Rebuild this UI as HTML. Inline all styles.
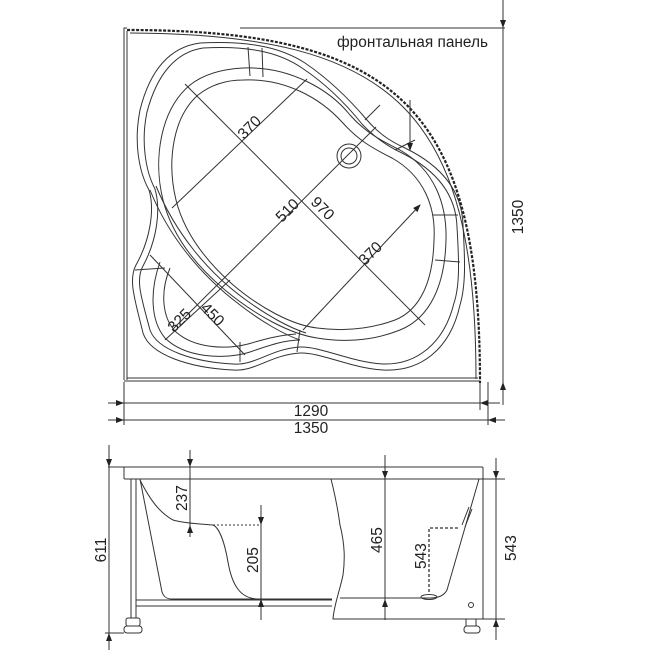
<!DOCTYPE html>
<html><head><meta charset="utf-8"><style>
html,body{margin:0;padding:0;background:#fff;}
svg{display:block;}
text{font-family:"Liberation Sans","DejaVu Sans",sans-serif;fill:#222;}
</style></head><body>
<svg width="664" height="664" viewBox="0 0 664 664" xmlns="http://www.w3.org/2000/svg">
<defs>
<marker id="a" markerWidth="8" markerHeight="8" refX="7" refY="3" orient="auto" markerUnits="userSpaceOnUse"><path d="M0,0 L8,3 L0,6 Z" fill="#222"/></marker>
</defs>
<g fill="none" stroke="#333" stroke-width="1">
<path d="M124,380 L124,28 L127,28"/>
<path d="M127,380 L127,31"/>
<path d="M124,381 L480,381 M127,378 L478,378"/>
<path d="M127,30 C400,30 480,110 480,383" stroke="#222" stroke-width="2.2" stroke-dasharray="3,1.5"/>
<path d="M130,33 C396,34 476,113 476,379"/>
<line x1="240" y1="28" x2="505" y2="28"/>
<path d="M200,43 C255,40 285,50 305,63 C330,80 350,100 367,120 C380,135 392,142 405,148 C440,165 462,190 463,225 C465,260 466,285 460,305 C450,350 420,372 383,370 C350,368 320,352 300,353 C270,355 255,372 233,370 C190,368 150,355 143,333 C135,300 128,280 136,265 C150,240 155,210 149,190 C138,170 134,140 140,110 C150,70 170,47 200,43 Z"/>
<path d="M203,48 C255,45 283,55 302,68 C326,84 346,104 362,124 C376,139 389,147 402,153 C436,170 456,194 457,227 C459,260 460,285 454,303 C444,344 416,365 383,364 C350,362 320,346 300,347 C270,349 255,366 233,364 C194,362 157,350 150,330 C142,300 135,280 143,266 C157,240 161,210 155,189 C145,170 141,140 147,112 C157,74 176,52 203,48 Z"/>
<path d="M243,68 C290,66 330,90 350,115 C365,132 380,140 400,150 C435,170 447,205 446,240 C445,285 430,318 400,330 C370,342 340,342 317,338 C290,334 255,315 225,290 C195,265 172,235 163,200 C153,160 160,110 190,85 C205,73 225,69 243,68 Z"/>
<path d="M243,80 C285,78 320,98 342,122 C358,140 372,148 392,158 C424,176 436,207 434,240 C433,282 420,310 395,320 C368,330 340,331 317,328 C292,325 260,308 232,284 C205,260 184,232 176,200 C167,163 172,118 198,95 C212,84 228,80 243,80 Z"/>
<path d="M160,262 C150,290 150,320 165,338 C185,358 225,360 250,352 C270,345 285,340 300,340"/>
<path d="M170,268 C160,292 162,318 176,332 C194,348 225,350 248,344 C265,339 280,335 296,334"/>
<path d="M150,190 C168,235 200,275 240,305 C262,322 285,335 300,340"/>
<path d="M156,186 C175,232 207,272 246,300 C268,316 290,328 306,333"/>
<path d="M248,47 L250,76 M262,48 L263,77 M365,120 L380,105 M395,150 L415,140 M433,215 L458,215 M435,260 L460,262 M300,330 L297,352 M240,342 L240,362 M135,270 L165,268"/>
<circle cx="349" cy="156" r="12"/><circle cx="349" cy="156" r="8"/>
<line x1="185" y1="84" x2="425" y2="325"/>
<line x1="172" y1="330" x2="376" y2="127"/>
<line x1="303" y1="330" x2="420" y2="205" marker-end="url(#a)"/>
<line x1="172" y1="208" x2="307" y2="79"/>
<line x1="150" y1="255" x2="245" y2="355"/>
<line x1="165" y1="340" x2="230" y2="280"/>
<line x1="410" y1="100" x2="410" y2="150" marker-end="url(#a)"/>
<line x1="503" y1="0" x2="503" y2="405"/>
<line x1="503" y1="5" x2="503" y2="27" marker-end="url(#a)"/>
<line x1="503" y1="405" x2="503" y2="383" marker-end="url(#a)"/>
<line x1="480" y1="382" x2="480" y2="410"/>
<line x1="488" y1="382" x2="488" y2="425"/>
<line x1="124" y1="382" x2="124" y2="425"/>
<line x1="108" y1="403" x2="490" y2="403"/>
<line x1="108" y1="403" x2="123" y2="403" marker-end="url(#a)"/>
<line x1="500" y1="403" x2="481" y2="403" marker-end="url(#a)"/>
<line x1="108" y1="420" x2="500" y2="420"/>
<line x1="108" y1="420" x2="123" y2="420" marker-end="url(#a)"/>
<line x1="505" y1="420" x2="489" y2="420" marker-end="url(#a)"/>
</g>
<g font-size="15.5">
<text x="337" y="47" textLength="151" lengthAdjust="spacingAndGlyphs">фронтальная панель</text>
<text x="311" y="416" text-anchor="middle">1290</text>
<text x="311" y="433" text-anchor="middle">1350</text>
<text transform="translate(523,217) rotate(-90)" text-anchor="middle">1350</text>
<text transform="translate(253,131) rotate(-45)" text-anchor="middle">370</text>
<text transform="translate(291,214) rotate(-45)" text-anchor="middle">510</text>
<text transform="translate(319,212) rotate(45)" text-anchor="middle">970</text>
<text transform="translate(374,257) rotate(-45)" text-anchor="middle">370</text>
<text transform="translate(183,324) rotate(-45)" text-anchor="middle">325</text>
<text transform="translate(209,318) rotate(45)" text-anchor="middle">450</text>
</g>
<g fill="none" stroke="#333" stroke-width="1">
<rect x="124" y="467" width="359" height="12" rx="1"/>
<line x1="108" y1="467" x2="124" y2="467"/>
<line x1="483" y1="479" x2="505" y2="479"/>
<path d="M131,479 L131,618 M136,479 L136,618"/>
<rect x="126" y="618" width="14" height="8" rx="2"/>
<rect x="124" y="626" width="18" height="7" rx="3"/>
<line x1="105" y1="633" x2="124" y2="633"/>
<path d="M136,600 L332,600 M136,606 L332,606"/>
<path d="M140,479 L162,592 C164,598 168,599 172,599 L332,599"/>
<path d="M140,480 C150,500 160,513 173,520 C182,523 200,524 213,525 C220,528 225,545 228,562 C232,585 240,598 257,599"/>
<path d="M331,479 C335,495 338,510 340,525 C345,545 345,560 343,575 C340,590 334,605 333,619 L483,619 L483,479"/>
<path d="M479,479 L447,590 C444,596 438,598 430,598 L340,598"/>
<ellipse cx="429" cy="597" rx="8" ry="2.5"/>
<circle cx="471" cy="605" r="2.5"/>
<path d="M462,525 L469,507 M465,527 L472,509"/>
<rect x="466" y="619" width="10" height="7"/>
<rect x="464" y="626" width="16" height="7" rx="3"/>
<line x1="483" y1="619" x2="505" y2="619"/>
<line x1="109" y1="445" x2="109" y2="650"/>
<line x1="109" y1="448" x2="109" y2="466" marker-end="url(#a)"/>
<line x1="109" y1="650" x2="109" y2="634" marker-end="url(#a)"/>
<line x1="496" y1="458" x2="496" y2="640"/>
<line x1="496" y1="460" x2="496" y2="478" marker-end="url(#a)"/>
<line x1="496" y1="638" x2="496" y2="620" marker-end="url(#a)"/>
<line x1="190" y1="450" x2="190" y2="537"/>
<line x1="190" y1="452" x2="190" y2="466" marker-end="url(#a)"/>
<line x1="190" y1="537" x2="190" y2="526" marker-end="url(#a)"/>
<line x1="261" y1="505" x2="261" y2="620"/>
<line x1="261" y1="505" x2="261" y2="524" marker-end="url(#a)"/>
<line x1="261" y1="620" x2="261" y2="600" marker-end="url(#a)"/>
<line x1="385" y1="455" x2="385" y2="620"/>
<line x1="385" y1="455" x2="385" y2="478" marker-end="url(#a)"/>
<line x1="385" y1="620" x2="385" y2="600" marker-end="url(#a)"/>
<path d="M213,525 L261,525" stroke-dasharray="2,2"/>
<path d="M458,528 L429,528 L429,594" stroke-dasharray="3,2" stroke-width="1.3"/>
</g>
<g font-size="15.5">
<text transform="translate(106,550) rotate(-90)" text-anchor="middle">611</text>
<text transform="translate(516,548) rotate(-90)" text-anchor="middle">543</text>
<text transform="translate(187,498) rotate(-90)" text-anchor="middle">237</text>
<text transform="translate(258,560) rotate(-90)" text-anchor="middle">205</text>
<text transform="translate(382,540) rotate(-90)" text-anchor="middle">465</text>
<text transform="translate(426,556) rotate(-90)" text-anchor="middle">543</text>
</g>
</svg>
</body></html>
